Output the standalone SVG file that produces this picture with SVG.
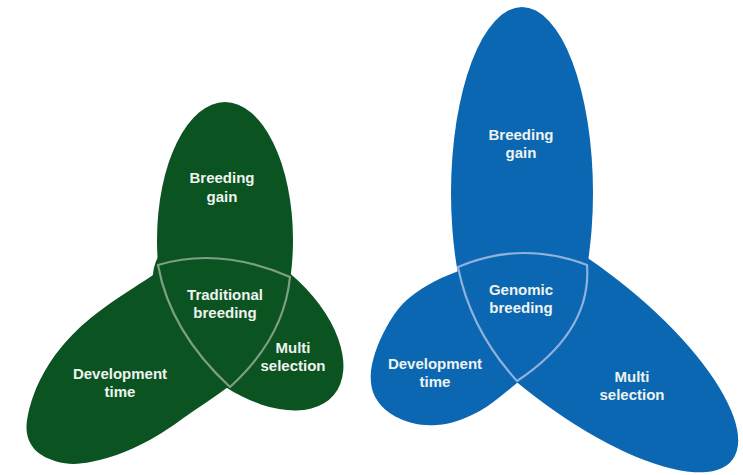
<svg xmlns="http://www.w3.org/2000/svg" width="743" height="475" viewBox="0 0 743 475">
<style>
.g{fill:#0b5422}
.b{fill:#0b67b2}
.t{font-family:"Liberation Sans",Arial,sans-serif;font-weight:bold;font-size:15px;fill:#eef3ef;text-anchor:middle}
.hg{fill:none;stroke:#7f9f84;stroke-width:2.2}
.hb{fill:none;stroke:#8fb1dc;stroke-width:2.2}
</style>
<rect width="743" height="475" fill="#ffffff"/>
<g id="traditional">
<g id="g-breeding-gain">
<ellipse class="g" cx="225" cy="240" rx="68" ry="138"/>
<text class="t" x="222" y="183">Breeding</text>
<text class="t" x="222" y="202">gain</text>
</g>
<g id="g-development-time">
<path class="g" d="M158 272 C141.45 282.55 112.75 300.85 96.7 313.3 C80.65 325.75 71.15 335.58 61.7 346.7 C52.25 357.82 45.57 368.9 40 380 C34.43 391.1 30.35 403.85 28.3 413.3 C26.25 422.75 25.75 429.92 27.7 436.7 C29.65 443.48 33.78 449.57 40 454 C46.22 458.43 56.38 462.02 65 463.3 C73.62 464.58 81.7 463.63 91.7 461.7 C101.7 459.77 113.9 456.15 125 451.7 C136.1 447.25 146.63 441.95 158.3 435 C169.97 428.05 183.33 418.05 195 410 C206.67 401.95 217.47 394.7 228.3 386.7 C239.13 378.7 250.55 376.45 260 362 C269.45 347.55 285 318.67 285 300 C285 281.33 274.83 258.33 260 250 C245.17 241.67 213 246.33 196 250 C179 253.67 174.55 261.45 158 272 Z"/>
</g>
<g id="g-multi-selection">
<ellipse class="g" cx="248" cy="323" rx="112" ry="65" transform="rotate(40 248 323)"/>
</g>
</g>
<g id="genomic">
<g id="b-breeding-gain">
<ellipse class="b" cx="522" cy="193" rx="71" ry="186"/>
</g>
<g id="b-development-time">
<path class="b" d="M456.7 271.7 C446.37 275.53 436.9 279.73 428 285 C419.1 290.27 410.18 296.35 403.3 303.3 C396.42 310.25 391.42 318.37 386.7 326.7 C381.98 335.03 377.67 344.97 375 353.3 C372.33 361.63 370.7 369.47 370.7 376.7 C370.7 383.93 371.78 390.6 375 396.7 C378.22 402.8 383.62 408.87 390 413.3 C396.38 417.73 405.52 421.35 413.3 423.3 C421.08 425.25 428.92 425.55 436.7 425 C444.48 424.45 451.67 423.05 460 420 C468.33 416.95 477.25 412.82 486.7 406.7 C496.15 400.58 506.98 391.08 516.7 383.3 C526.42 375.52 536.12 372.22 545 360 C553.88 347.78 570 325.83 570 310 C570 294.17 558.33 273 545 265 C531.67 257 504.72 260.88 490 262 C475.28 263.12 467.03 267.87 456.7 271.7 Z"/>
</g>
<g id="b-multi-selection">
<path class="b" d="M569.2 246.2 A200 71.5 38 1 1 457.6 324.1 L510 290 Z"/>
</g>
</g>
<g id="connectors">
<path class="hg" d="M158 265 Q220 246.5 290 277 Q284 338 230 387 Q170 331.5 158 265 Z"/>
<path class="hb" d="M458 267 Q521.5 240 587 265 Q592 331 517 381 Q470.5 330 458 267 Z"/>
</g>
<g id="labels">
<text class="t" x="225" y="300">Traditional</text>
<text class="t" x="225" y="318">breeding</text>
<text class="t" x="120" y="379">Development</text>
<text class="t" x="120" y="397">time</text>
<text class="t" x="293" y="353">Multi</text>
<text class="t" x="293" y="371">selection</text>
<text class="t" x="521" y="140">Breeding</text>
<text class="t" x="521" y="158">gain</text>
<text class="t" x="521" y="295">Genomic</text>
<text class="t" x="521" y="313">breeding</text>
<text class="t" x="435" y="369">Development</text>
<text class="t" x="435" y="387">time</text>
<text class="t" x="632" y="382">Multi</text>
<text class="t" x="632" y="400">selection</text>
</g>
</svg>
